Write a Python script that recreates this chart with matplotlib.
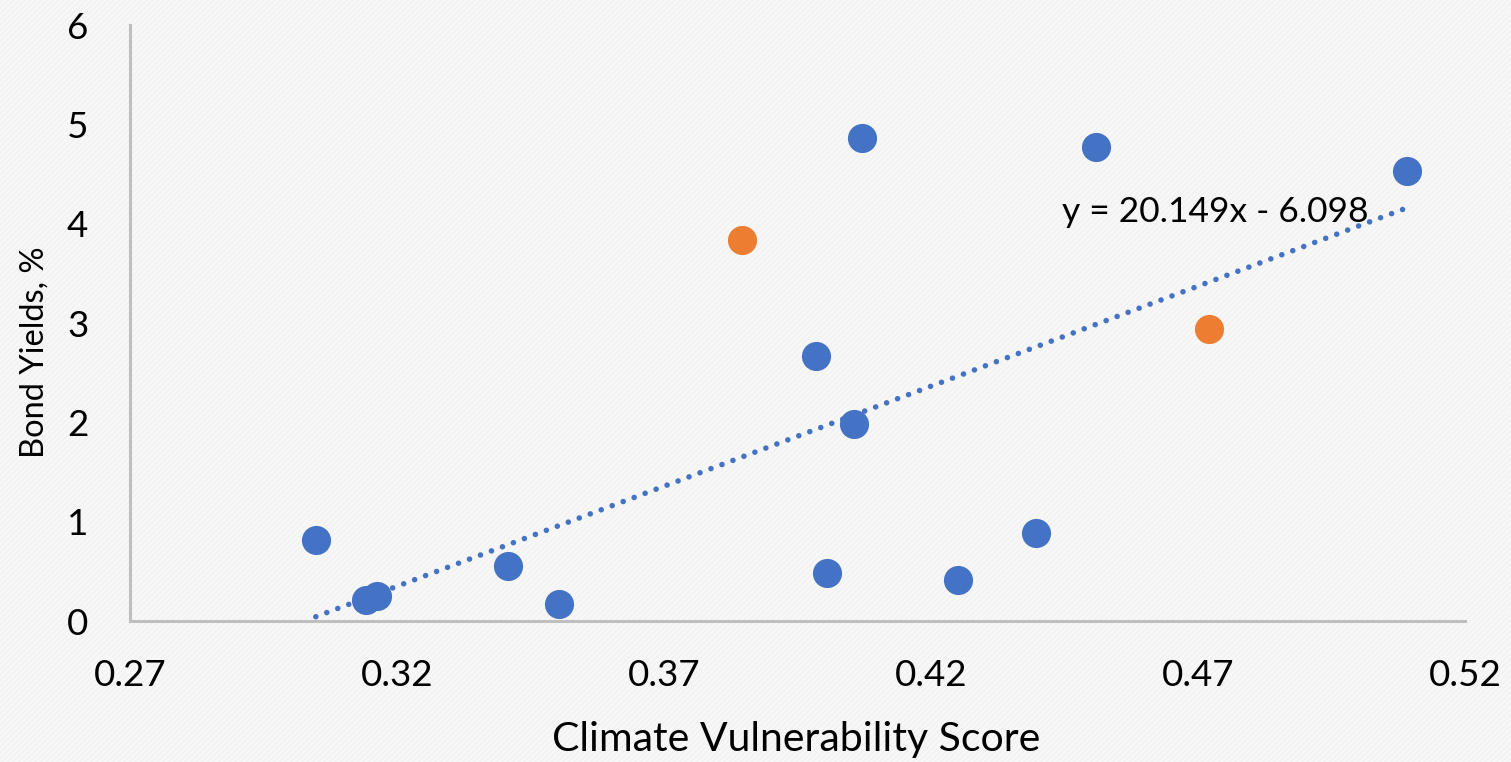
import matplotlib
matplotlib.use('Agg')
import matplotlib.pyplot as plt
from matplotlib.patches import Rectangle

# data
blue_x = [0.3048, 0.3142, 0.3163, 0.3408, 0.3503, 0.3985, 0.4005, 0.4056,
          0.4071, 0.4251, 0.4397, 0.4509, 0.5091]
blue_y = [0.82, 0.21, 0.25, 0.55, 0.17, 2.67, 0.48, 1.98,
          4.86, 0.41, 0.89, 4.77, 4.53]
orange_x = [0.3846, 0.4721]
orange_y = [3.84, 2.94]

slope = 20.149
intercept = -6.098
eq_label = 'y = 20.149x - 6.098'

x_ticks = [0.27, 0.32, 0.37, 0.42, 0.47, 0.52]
y_ticks = [0, 1, 2, 3, 4, 5, 6]

plt.rcParams['font.family'] = ['Lato', 'DejaVu Sans']

fig = plt.figure(figsize=(15.11, 7.62), dpi=100)
fig.patch.set_facecolor('#f3f3f3')
# faint diagonal stripes like the Excel background
bg = Rectangle((0, 0), 1, 1, transform=fig.transFigure, facecolor='none',
               edgecolor='#fafafa', hatch='//////', linewidth=0, zorder=-10)
fig.patches.append(bg)

ax = fig.add_axes([0.086, 0.185, 0.8836, 0.782])
ax.set_facecolor('none')

ax.scatter(blue_x, blue_y, s=440, color='#4472C4', zorder=3, linewidths=0)
ax.scatter(orange_x, orange_y, s=440, color='#ED7D31', zorder=3, linewidths=0)

# linear trendline over the blue series range
x0, x1 = min(blue_x), max(blue_x)
ax.plot([x0, x1], [slope * x0 + intercept, slope * x1 + intercept],
        color='#4472C4', linewidth=4.0, linestyle=(0, (0.01, 2.1)),
        dash_capstyle='round', zorder=2)
ax.text(0.4445, 4.12, eq_label, fontsize=25.5, ha='left', va='center',
        color='black')

ax.set_xlim(0.27, 0.52)
ax.set_ylim(0, 6)
ax.set_xticks(x_ticks)
ax.set_xticklabels([f'{t:.2f}' for t in x_ticks])
ax.set_yticks(y_ticks)
ax.tick_params(axis='both', length=0, labelsize=26.5)
ax.tick_params(axis='x', pad=27)
ax.tick_params(axis='y', pad=30)

for side in ['top', 'right']:
    ax.spines[side].set_visible(False)
for side in ['left', 'bottom']:
    ax.spines[side].set_color('#bfbfbf')
    ax.spines[side].set_linewidth(2.2)

fig.text(796 / 1511, 1 - 740 / 762, 'Climate Vulnerability Score',
         fontsize=29.5, ha='center', va='center')
fig.text(35 / 1511, 1 - 352 / 762, 'Bond Yields, %', fontsize=23.5,
         ha='center', va='center', rotation=90)

fig.savefig('out.png', dpi=100, facecolor=fig.get_facecolor())
